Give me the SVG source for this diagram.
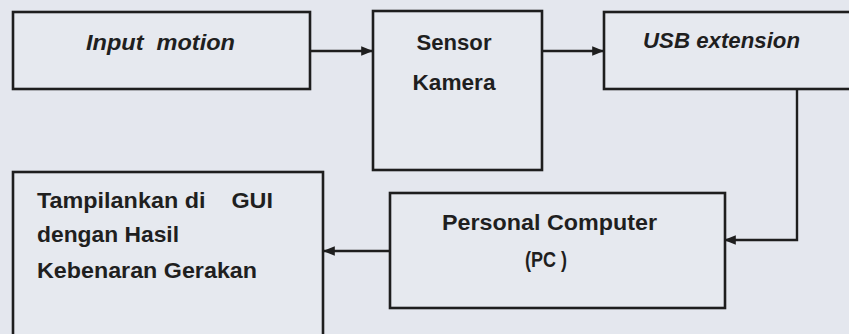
<svg xmlns="http://www.w3.org/2000/svg" width="849" height="334" viewBox="0 0 849 334">
<defs>
<style>
.box{fill:#e6e9ef;stroke:#1e1e1e;stroke-width:2.6}
.t{font-family:"Liberation Sans",Arial,sans-serif;font-weight:bold;font-size:22px;fill:#1f1f1f;white-space:pre}
.i{font-style:italic}
.c{fill:none;stroke:#1e1e1e;stroke-width:2.4}
</style>
<marker id="ah" viewBox="0 0 10 10" refX="9" refY="5" markerWidth="5" markerHeight="5" orient="auto" markerUnits="strokeWidth">
<path d="M0,1 L10,5 L0,9 Z" fill="#1e1e1e"/>
</marker>
</defs>
<rect x="0" y="0" width="849" height="334" fill="#e4e7ee"/>
<g id="input-motion">
<rect class="box" x="13" y="12" width="297" height="77"/>
<text class="t i" x="86" y="50" textLength="149" lengthAdjust="spacingAndGlyphs" xml:space="preserve">Input  motion</text>
</g>
<g id="sensor-kamera">
<rect class="box" x="373" y="11" width="169" height="159"/>
<text class="t" x="454" y="50" text-anchor="middle" textLength="75" lengthAdjust="spacingAndGlyphs">Sensor</text>
<text class="t" x="454" y="90" text-anchor="middle" textLength="83" lengthAdjust="spacingAndGlyphs">Kamera</text>
</g>
<g id="usb-extension">
<rect class="box" x="604" y="12" width="260" height="77"/>
<text class="t i" x="643" y="48" textLength="157" lengthAdjust="spacingAndGlyphs">USB extension</text>
</g>
<g id="personal-computer">
<rect class="box" x="390" y="193" width="335" height="115"/>
<text class="t" x="442" y="230" textLength="215" lengthAdjust="spacingAndGlyphs">Personal Computer</text>
<text class="t" x="525" y="267" textLength="42" lengthAdjust="spacingAndGlyphs" xml:space="preserve">(PC )</text>
</g>
<g id="gui">
<rect class="box" x="13" y="172" width="310" height="175"/>
<text class="t" x="37" y="208" textLength="236" lengthAdjust="spacingAndGlyphs" xml:space="preserve">Tampilankan di    GUI</text>
<text class="t" x="37" y="242" textLength="142" lengthAdjust="spacingAndGlyphs">dengan Hasil</text>
<text class="t" x="37" y="278" textLength="220" lengthAdjust="spacingAndGlyphs">Kebenaran Gerakan</text>
</g>
<g id="connectors">
<path class="c" d="M310,51 L372,51" marker-end="url(#ah)"/>
<path class="c" d="M542,51 L603,51" marker-end="url(#ah)"/>
<path class="c" d="M797,89 L797,240 L725,240" marker-end="url(#ah)"/>
<path class="c" d="M390,251 L324,251" marker-end="url(#ah)"/>
</g>
</svg>
